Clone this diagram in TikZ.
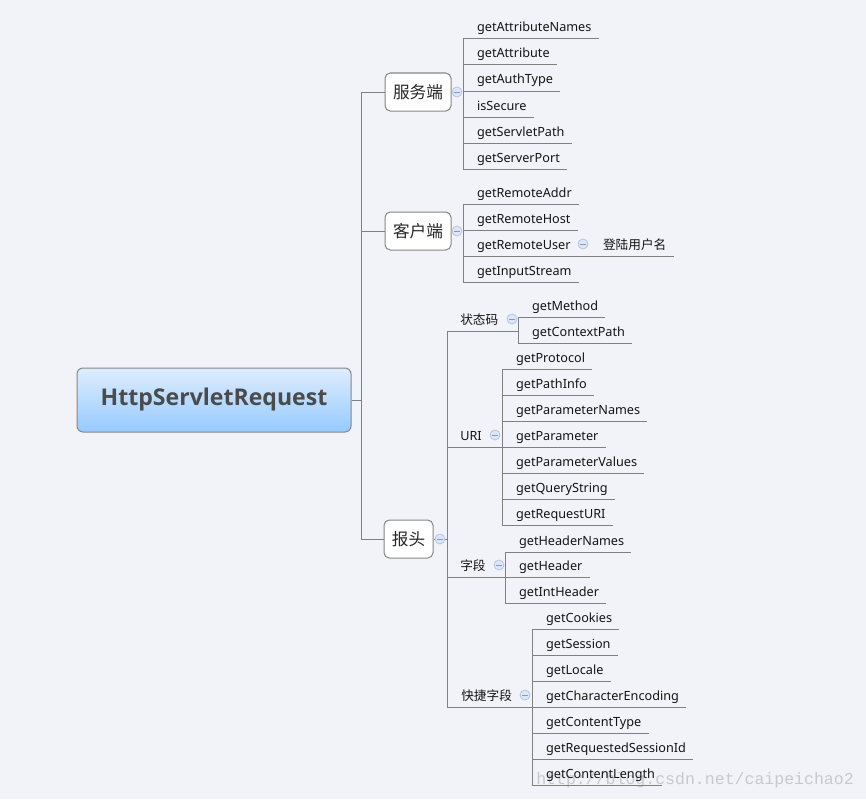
\documentclass[tikz,border=0pt]{standalone}
\usepackage{fontspec}
\setmainfont{Noto Sans}
\newfontfamily\rootfont{Open Sans}[BoldFont={* Bold}]
\newfontfamily\cjk{Noto Sans CJK SC}
\newfontfamily\wmfont{Liberation Mono}
\usetikzlibrary{calc}
\definecolor{bg}{RGB}{242,243,248}
\definecolor{lncol}{RGB}{128,128,128}
\definecolor{boxline}{RGB}{135,135,135}
\definecolor{rtop}{RGB}{222,237,253}
\definecolor{rbot}{RGB}{150,202,255}
\definecolor{rtext}{RGB}{75,75,75}
\definecolor{togfill}{RGB}{220,230,247}
\definecolor{togline}{RGB}{170,192,232}
\definecolor{wmcol}{RGB}{200,200,206}
\tikzset{
  conn/.style={draw=lncol, line width=0.75pt},
  leaf/.style={anchor=base west, inner sep=0pt, text=black!92, font=\fontsize{9.5}{11}\selectfont},
  sublabel/.style={anchor=base west, inner sep=0pt, text=black!92, font=\cjk\fontsize{9.5}{11}\selectfont},
  rootbox/.style={draw=boxline, line width=0.75pt, rounded corners=4.5pt, top color=rtop, bottom color=rbot,
    minimum width=205.5pt, minimum height=48pt, text=rtext, font=\rootfont\bfseries\fontsize{17.3}{20}\selectfont},
  catbox/.style={draw=boxline, line width=0.75pt, fill=white, rounded corners=4pt,
    minimum width=49.5pt, minimum height=28.5pt, inner sep=0pt, font=\cjk\fontsize{12.5}{14}\selectfont, text=black!85},
  tog/.style={circle, draw=togline, fill=togfill, line width=0.5pt, minimum size=7.5pt, inner sep=0pt,
    path picture={\draw[togline!80!black, line width=0.6pt]
      ([xshift=-1.9pt]path picture bounding box.center) -- ([xshift=1.9pt]path picture bounding box.center);}}
}
% leaf: name, spine x, underline y, text
\newcommand\leafnode[4]{%
  \coordinate (#1-u) at (#2,#3);
  \node[leaf] (#1) at ({#2+13.8},{#3-7}) {#4};
  \draw[conn] (#1-u) -- ([xshift=5.25pt]#1.east |- #1-u);
}
\begin{document}
\begin{tikzpicture}[x=0.75pt,y=-0.75pt]
\fill[bg] (0,0) rectangle (866,799);
\useasboundingbox (0,0) rectangle (866,799);

% watermark
\node[anchor=base west, inner sep=0pt, text=wmcol, font=\wmfont\fontsize{12.4}{14}\selectfont] (wm) at (536,784) {http://blog.csdn.net/caipeichao2};

% root and trunk
\node[rootbox] (root) at (214,400) {HttpServletRequest};
\coordinate (trT) at (361,92);
\coordinate (trB) at (361,539);
\node[catbox] (fw) at (418,92) {服务端};
\node[catbox] (kh) at (418,231) {客户端};
\node[catbox, minimum width=36.75pt] (bt) at (408.5,539) {报头};
\draw[conn] (root.east) -- (root.east -| trT);
\draw[conn] (trT) -- (trB);
\draw[conn] (trT) -- (fw.west);
\draw[conn] (kh.west -| trT) -- (kh.west);
\draw[conn] (trB) -- (bt.west);

% server side
\coordinate (s1t) at (463,39);
\coordinate (s1b) at (463,169);
\draw[conn] (s1t) -- (s1b);
\leafnode{a1}{463}{39}{getAttributeNames}
\leafnode{a2}{463}{65}{getAttribute}
\leafnode{a3}{463}{91}{getAuthType}
\leafnode{a4}{463}{117}{isSecure}
\leafnode{a5}{463}{143}{getServletPath}
\leafnode{a6}{463}{169}{getServerPort}
\node[tog] (t1) at (457,92) {};

% client side
\coordinate (s2t) at (463,204);
\coordinate (s2b) at (463,282);
\draw[conn] (s2t) -- (s2b);
\leafnode{b1}{463}{204}{getRemoteAddr}
\leafnode{b2}{463}{230}{getRemoteHost}
\leafnode{b3}{463}{256}{getRemoteUser}
\leafnode{b4}{463}{282}{getInputStream}
\leafnode{b5}{589}{256}{\cjk 登陆用户名}
\draw[conn] (b3-u) -- (b5-u);
\node[tog] (t2) at (457,231) {};
\node[tog] (t3) at (583,244) {};

% header
\coordinate (s3t) at (447,331);
\coordinate (s3b) at (447,707);
\draw[conn] (s3t) -- (s3b);
\draw[conn] (bt.east) -- (bt.east -| s3t);
\node[tog] (t4) at (440,539) {};

% status code
\node[sublabel] (g1) at (460,324) {状态码};
\coordinate (g1s) at (518,331);
\draw[conn] (s3t) -- (g1s);
\draw[conn] (518,317) -- (518,343);
\leafnode{c1}{518}{317}{getMethod}
\leafnode{c2}{518}{343}{getContextPath}
\node[tog] (t5) at (512,319) {};

% URI
\node[sublabel, font=\fontsize{9.5}{11}\selectfont] (g2) at (460,440) {URI};
\draw[conn] (447,447) -- (502,447);
\draw[conn] (502,369) -- (502,525);
\leafnode{d1}{502}{369}{getProtocol}
\leafnode{d2}{502}{395}{getPathInfo}
\leafnode{d3}{502}{421}{getParameterNames}
\leafnode{d4}{502}{447}{getParameter}
\leafnode{d5}{502}{473}{getParameterValues}
\leafnode{d6}{502}{499}{getQueryString}
\leafnode{d7}{502}{525}{getRequestURI}
\node[tog] (t6) at (495,435) {};

% fields
\node[sublabel] (g3) at (460,570) {字段};
\draw[conn] (447,577) -- (505,577);
\draw[conn] (505,552) -- (505,603);
\leafnode{e1}{505}{552}{getHeaderNames}
\leafnode{e2}{505}{577}{getHeader}
\leafnode{e3}{505}{603}{getIntHeader}
\node[tog] (t7) at (499,565) {};

% shortcut fields
\node[sublabel] (g4) at (461,700) {快捷字段};
\draw[conn] (s3b) -- (532,707);
\draw[conn] (532,629) -- (532,785);
\leafnode{f1}{532}{629}{getCookies}
\leafnode{f2}{532}{655}{getSession}
\leafnode{f3}{532}{681}{getLocale}
\leafnode{f4}{532}{707}{getCharacterEncoding}
\leafnode{f5}{532}{733}{getContentType}
\leafnode{f6}{532}{759}{getRequestedSessionId}
\leafnode{f7}{532}{785}{getContentLength}
\node[tog] (t8) at (525,695) {};
\end{tikzpicture}
\end{document}
